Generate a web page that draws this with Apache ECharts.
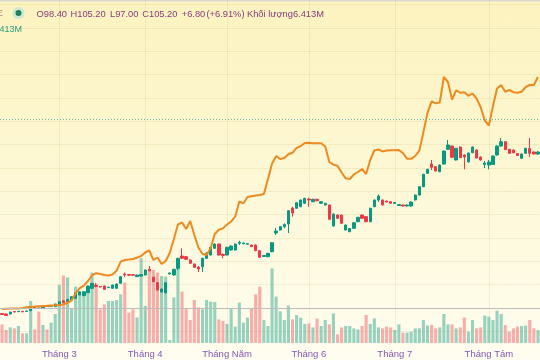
<!DOCTYPE html>
<html>
<head>
<meta charset="utf-8">
<script src="https://cdn.jsdelivr.net/npm/echarts@6/dist/echarts.min.js"></script>
<style>
  html, body { margin: 0; padding: 0; }
  #chart { width: 540px; height: 360px;
    background: linear-gradient(to bottom, #fcf3bf 0%, #fdf7d3 45%, #fffdf0 100%); }
</style>
</head>
<body>
<div id="chart"></div>
<script>
// ---- data (chart units: relative change, 0 = start baseline) ----
const monthStarts = [14, 35, 55, 75, 96, 119];
const monthLabels = ['Tháng 3', 'Tháng 4', 'Tháng Năm', 'Tháng 6', 'Tháng 7', 'Tháng Tám'];

// candles: [open, close, low, high]
const candles = [
 [-5.5,-6.5,-7,-5],[-6,-7.5,-8,-5.5],[-6,-4,-6.5,-3.7],[-3.5,-4,-4.5,-3],[-3.7,-3.3,-4,-3],
 [-3.3,-3.8,-4.2,-3],[-3.5,-3,-3.8,-2.7],[-2.7,1.3,-3,1.6],[1.3,0,-0.4,1.8],[0,-0.5,-1,0.5],
 [-0.3,2,-0.6,2.3],[2,1.6,1.2,2.4],[1.8,2.2,1.5,2.6],[1.3,4,1,4.3],[3,6.3,2.7,6.6],
 [7.3,5.3,5,7.8],[6.3,8.7,6,9],[8,11.3,7.7,11.6],[9.7,15.3,9.3,15.7],[13,16.3,12.7,16.7],
 [12.3,16.3,12,16.8],[15.3,22,15,22.4],[19.7,24.7,19.3,25],[22.5,21.5,20.7,24.8],[21.6,21,20.5,22],
 [22,18.7,18.3,22.4],[20.3,20.8,20,21.2],[19.7,23,19.3,23.4],[19.7,24,19.3,24.4],[24.7,31.3,24.3,31.7],
 [34,33.2,31,35.5],[33.5,32.8,32,34],[33.3,32.8,32,34],[31.3,33,31,33.4],[32,33.5,31.5,34],
 [33,38,32.5,38.5],[38.7,37.3,36.5,42],[30.7,26.3,26,31.2],[25.3,18,17.5,26],[16,19,15.5,19.5],
 [15.3,25.3,14.5,25.8],[34,35,33.5,35.5],[33,38.7,32.5,39.2],[39.7,49.7,38,50.2],[52,49.7,49,59.7],
 [51.3,48.7,48.3,51.8],[48,44.7,44.3,48.5],[44,40.7,40.3,44.5],[41,39,36,42],[41.3,49.7,36,50.2],
 [49.7,55,49.3,55.5],[53,60.7,52.5,61.2],[59.7,64,59.3,64.5],[64,53,52.5,64.5],[53.5,52.5,49.7,54.7],
 [53,60.7,52.5,61.2],[58,62,57.5,62.5],[58,64,57.5,64.5],[64.7,65.7,63,67.3],[64.2,65,63.7,65.5],
 [63.7,64.3,63.3,64.8],[63,61.3,61,63.5],[63,57.3,57,63.5],[57.3,50.7,50.3,57.8],[51.5,52.5,51,53],
 [51.3,54.7,50.8,55.2],[56.3,65.3,55.8,65.8],[75,77,73,80],[78,81.3,77.5,81.8],[81.3,83.5,79.7,84.7],
 [84,97.3,75,97.8],[100,95,91.3,101.3],[99.7,105.3,99.2,105.8],[101.3,108,100.8,108.5],[104.7,109.7,104.2,110.2],
 [109,108,101.3,110.5],[106.3,108.7,105.8,109.2],[108.7,107.3,106.8,109.2],[104.7,106.3,104.2,106.8],[103,104.7,102.5,105.2],
 [103,88.7,88.2,103.5],[82,94,81.5,94.5],[93,89.7,89.2,93.5],[93,84.7,84.2,93.5],[78,83,77.5,83.5],
 [76.3,79.5,75.8,80],[79.7,85.3,79.2,85.8],[86.3,90.7,85.8,91.2],[93,89.7,89.2,93.5],[91.3,86.3,85.8,91.8],
 [86.3,99.7,85.8,100.2],[101.3,108,100.8,108.5],[108,112,106,113.5],[108,103,102.5,108.5],[107,106,105.5,107.5],
 [106.3,104.7,104.2,106.8],[104.5,105.5,104,106],[102.5,103.5,102,104],[103,102,101.5,103.5],[102,103,101.5,103.5],
 [102,106,101.5,106.5],[108,113,107.5,113.5],[113,121.3,112.5,121.8],[121.3,133.7,120.8,134.2],[134.7,138.7,134.2,139.2],
 [144,140.7,138,148],[141.3,137,136.5,141.8],[136.3,143,135.8,143.5],[144,157,143.5,157.5],[158.7,163,158.2,168],
 [162,150.7,150.2,162.5],[148,159.7,147.5,160.2],[161,150.5,150,161.5],[153,151,138.7,153.5],[146,155,145.5,155.5],
 [155.3,161,154.8,161.5],[158,150,149.5,158.5],[151,148,147.5,151.5],[143.5,145,140,147],[143,146,138.7,148],
 [143.5,152,143,152.5],[153,162,152.5,162.5],[162,166.3,161.5,170],[166.3,158.5,158,166.8],[158.7,154.7,154.2,159.2],
 [158,155.3,154.8,158.5],[154.5,152.5,152,155],[149.7,154,149.2,154.5],[154.7,159.7,154.2,160.2],[159.5,154.7,151,170],
 [156,154,153.5,156.5],[154,156,153,157]
];

// comparison line (orange)
const lineValues = [
 -1,-0.8,-0.6,-0.5,-0.4,0.1,0.8,1.3,1.5,1.8,
 2,2.2,2.5,2.7,3,3.6,5,7.6,14.8,19.8,
 22.3,27,32.6,34.8,34,33,32.5,33.4,37.2,46.3,
 48,48.4,49,50.3,52,55.5,57.5,48,50.5,44,
 47,55,69,83.5,85.5,79,87,73,60.5,54,
 53,60,74,78.2,79.6,83.5,86.3,91.5,106.5,104.7,
 111,111.8,112.4,113,114,129,144.5,151.8,149,150,
 153.7,155.2,160.2,161.9,165,165.2,164.7,164.7,164.7,161.5,
 146,143.4,142.3,135.5,129.7,129,133.5,136,139,134,
 148,157.5,158.5,156.6,157.4,157.8,157.8,157.9,155,149.3,
 149.2,152,157.4,176,195.1,206.7,204.7,205.6,231,226,
 208.5,217.7,215.3,215.7,212.2,214.5,209.4,200.7,187.5,182.5,
 201.8,219.5,223,216.2,218,215.8,215.3,216.2,221,223,
 223,231
];

// volume, millions of shares
const volumes = [
 9.3,6.5,7.8,7.3,8.5,4.8,4.8,21,6.8,15.7,
 9,6.8,10.2,14.5,29,33.7,32.8,17.3,28.2,24.8,
 25.3,28.2,35.2,29.8,16.8,19.3,21,21,21.5,24.3,
 30.2,15.2,16.8,12.8,42.3,18.5,36.8,36.5,35.2,33.5,
 33.2,1.5,22.8,41.5,25.7,17.3,11.5,21.5,17.8,16.8,
 21.5,20.7,20.5,11.8,11,9.5,17,8.2,20.2,10.2,
 12.7,17.3,24.3,28.2,11.5,8.5,37.3,23.2,15.8,11.5,
 18.7,11.8,14,12.7,9.5,9.8,7.8,12.2,8.5,11.5,
 9.3,14.8,4.3,7.8,8.5,8.5,7.3,6.8,8.5,14,
 9.5,12.3,7.8,7.3,8.2,7.8,6.5,9.3,5.2,5.2,
 5.7,7.3,7.3,11.5,8.7,9,7.3,7.8,14.5,9.3,
 9.3,7.3,7.8,12.7,5.7,11.5,7.3,7.8,13.7,13.2,
 11.5,16.2,14.5,9,5.7,7.3,8.2,8.5,8.7,11.5,
 7.3,6.413
];

const priceLineValue = 188.7;   // dotted last-value line
const baselineValue = 0;        // 0% line

const headerParts = [
  ['O98.40', 36.5], ['H105.20', 70.5], ['L97.00', 110], ['C105.20', 142.3],
  ['+6.80', 181.7], ['(+6.91%)', 206.5], ['Khối lượng6.413M', 247]
];
const volLabel = '6.413M';

// ---- chart ----
const N = candles.length;
const categories = Array.from({length: N}, (_, i) => 'd' + i);
const STEP = 70 / 3;
const UP = '#089981', DOWN = '#f23645';
const UPV = 'rgba(8,153,129,0.42)', DOWNV = 'rgba(242,54,69,0.40)';

const volData = volumes.map((v, i) => ({
  value: v,
  itemStyle: { color: candles[i][1] >= candles[i][0] ? UPV : DOWNV }
}));

const chart = echarts.init(document.getElementById('chart'), null, { renderer: 'canvas' });

const graphics = [
  { type: 'rect', shape: { x: 0, y: 0, width: 540, height: 2 }, style: { fill: '#e8e6d8' }, silent: true },
  { type: 'text', style: { x: 3, y: 14, text: 'E', fill: '#a2878f', font: '9px "Liberation Sans", sans-serif', align: 'right', verticalAlign: 'middle' } },
  { type: 'circle', shape: { cx: 18.5, cy: 13, r: 6 }, style: { fill: '#cfe7cf' } },
  { type: 'circle', shape: { cx: 18.5, cy: 13, r: 3 }, style: { fill: '#1d7f5d' } },
  { type: 'text', style: { x: 22, y: 29.5, text: volLabel, fill: '#2a9d83', font: '9px "Liberation Sans", sans-serif', align: 'right', verticalAlign: 'middle' } }
];
headerParts.forEach(([t, x]) => {
  graphics.push({ type: 'text', style: { x: x, y: 14, text: t, fill: '#8c3a7e',
    font: '9.3px "Liberation Sans", sans-serif', verticalAlign: 'middle' } });
});

const option = {
  animation: false,
  backgroundColor: 'transparent',
  grid: [
    { left: 0, right: 0, top: 0, height: 308 + STEP },
    { left: 0, right: 0, top: 0, height: 343 }
  ],
  xAxis: [
    { type: 'category', gridIndex: 0, data: categories, boundaryGap: true,
      axisLine: { show: false }, axisTick: { show: false }, axisLabel: { show: false }, splitLine: { show: false } },
    { type: 'category', gridIndex: 1, data: categories, boundaryGap: true,
      axisLine: { show: false }, axisTick: { show: false }, splitLine: { show: false },
      axisLabel: {
        interval: (idx) => monthStarts.indexOf(idx) >= 0,
        formatter: (val, idx) => { const k = monthStarts.indexOf(idx); return k >= 0 ? monthLabels[k] : ''; },
        color: '#8459b8', fontSize: 9.5, margin: 6,
        fontFamily: '"Liberation Sans Narrow", "Liberation Sans", sans-serif'
      } }
  ],
  yAxis: [
    { type: 'value', gridIndex: 0, min: -STEP, max: 308, interval: STEP,
      axisLine: { show: false }, axisTick: { show: false }, axisLabel: { show: false },
      splitLine: { show: true, lineStyle: { color: 'rgba(150,125,40,0.10)', width: 1 } } },
    { type: 'value', gridIndex: 1, min: 0, max: 171.5, show: false, splitLine: { show: false } }
  ],
  series: [
    { type: 'bar', name: 'vol', xAxisIndex: 1, yAxisIndex: 1, data: volData, barWidth: '76%', z: 1,
      markLine: { silent: true, symbol: 'none', label: { show: false },
        lineStyle: { color: 'rgba(150,125,40,0.10)', width: 1, type: 'solid' },
        data: monthStarts.map(m => ({ xAxis: m })) } },
    { type: 'candlestick', name: 'px', xAxisIndex: 0, yAxisIndex: 0, data: candles, barWidth: '70%', z: 3,
      itemStyle: { color: UP, color0: DOWN, borderColor: UP, borderColor0: DOWN, borderWidth: 1 },
      markLine: { silent: true, symbol: 'none', label: { show: false },
        data: [
          { yAxis: priceLineValue, lineStyle: { color: '#6fb3a3', width: 1, type: [1, 2] } },
          { yAxis: baselineValue, lineStyle: { color: '#bdbdbd', width: 1, type: 'solid' } }
        ] } },
    { type: 'line', name: 'cmp', xAxisIndex: 0, yAxisIndex: 0, data: lineValues, z: 4,
      showSymbol: false, symbol: 'none', lineStyle: { color: '#ee8a1f', width: 2 }, itemStyle: { color: '#ee8a1f' } }
  ],
  graphic: graphics
};
chart.setOption(option);
</script>
</body>
</html>
